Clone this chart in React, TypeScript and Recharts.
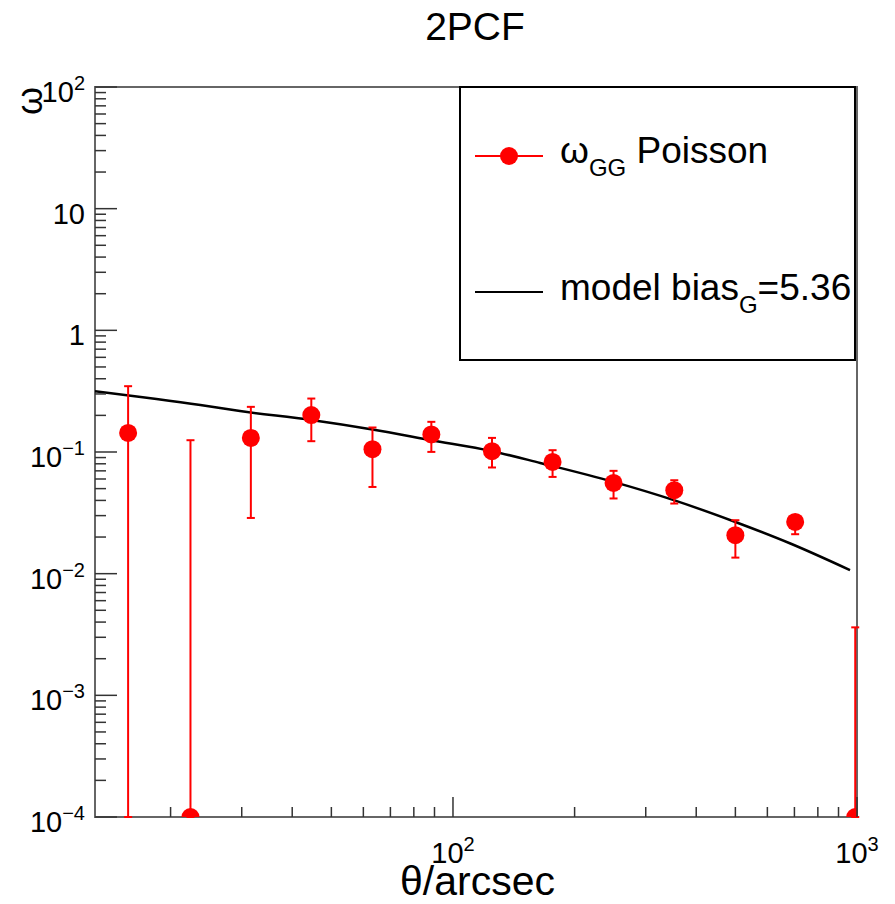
import React from 'react';
import {
  ComposedChart,
  Scatter,
  Line,
  XAxis,
  YAxis,
  ErrorBar,
  ReferenceArea,
  Legend,
  Customized,
} from 'recharts';

// measured points (theta in arcsec), omega and the ends of the error bars
const theta = [15.7, 22.4, 31.6, 44.6, 63.2, 88.4, 124.9, 176.4, 249.7, 353, 500, 703, 990];
const omega = [0.1436, 0.0001, 0.1306, 0.201, 0.1054, 0.1393, 0.1016, 0.0829, 0.0557, 0.0485, 0.0207, 0.0266, 0.0001];
const omegaLow = [0.0001, 0.0001, 0.0287, 0.1227, 0.0516, 0.1002, 0.0746, 0.0624, 0.0415, 0.0377, 0.01355, 0.0211, 0.0001];
const omegaHigh = [0.3475, 0.125, 0.235, 0.275, 0.159, 0.177, 0.1306, 0.1035, 0.07, 0.0586, 0.0275, 0.0297, 0.00362];

// model curve
const modelTheta = [13, 23.7, 29.7, 44.6, 63.2, 88.4, 124.9, 164.4, 249.6, 352, 500, 684, 961];
const modelOmega = [0.316, 0.243, 0.217, 0.183, 0.153, 0.125, 0.1016, 0.0813, 0.0568, 0.0402, 0.0266, 0.0177, 0.0107];

// axes
const xDomain = [13, 1000];
const yDomain = [1e-4, 100];
const xDecades = [10, 100];
const yDecades = [1e-5, 1e-4, 1e-3, 1e-2, 1e-1, 1, 10];
const xLabels: Record<string, [string, string]> = { '100': ['10', '2'], '1000': ['10', '3'] };
const yLabels: [string, string][] = [
  ['10', '−4'],
  ['10', '−3'],
  ['10', '−2'],
  ['10', '−1'],
  ['1', ''],
  ['10', ''],
  ['10', '2'],
];
const yLabelValues = [1e-4, 1e-3, 1e-2, 1e-1, 1, 10, 100];

const FONT = '"Liberation Sans", Arial, Helvetica, sans-serif';

const points = theta.map((x, i) => ({
  x,
  y: omega[i],
  err: [omega[i] - omegaLow[i], omegaHigh[i] - omega[i]],
}));
const model = modelTheta.map((x, i) => ({ x, y: modelOmega[i] }));

const xTicks = xDecades
  .flatMap((d) => [2, 3, 4, 5, 6, 7, 8, 9, 10].map((m) => m * d))
  .filter((v) => v >= xDomain[0] && v <= xDomain[1]);
const yTicks = yDecades
  .flatMap((d) => [2, 3, 4, 5, 6, 7, 8, 9, 10].map((m) => m * d))
  .filter((v) => v >= yDomain[0] * 0.999 && v <= yDomain[1] * 1.001);

const isDecade = (v: number) => Math.abs(Math.log10(v) - Math.round(Math.log10(v))) < 1e-6;

function XTick(props: any) {
  const { x, y, payload } = props;
  const v = payload.value;
  const major = isDecade(v);
  const lab = major ? xLabels[String(Math.round(v))] : null;
  return (
    <g>
      <line x1={x} x2={x} y1={y} y2={y - (major ? 20 : 10)} stroke="#333" strokeWidth={1.5} />
      {lab && (
        <text x={x} y={y + 46} textAnchor="middle" fontSize={29} fill="#000" fontFamily={FONT}>
          {lab[0]}
          <tspan dy={-12} fontSize={20}>{lab[1]}</tspan>
        </text>
      )}
    </g>
  );
}

function YTick(props: any) {
  const { x, y, payload } = props;
  const v = payload.value;
  const major = isDecade(v);
  const idx = yLabelValues.findIndex((d) => Math.abs(Math.log10(d) - Math.log10(v)) < 1e-6);
  const lab = major && idx >= 0 ? yLabels[idx] : null;
  return (
    <g>
      <line x1={x} x2={x + (major ? 22 : 11)} y1={y} y2={y} stroke="#333" strokeWidth={1.5} />
      {lab && (
        <text x={x - 10} y={y + 15} textAnchor="end" fontSize={29} fill="#000" fontFamily={FONT}>
          {lab[0]}
          {lab[1] && (
            <tspan dy={-12} fontSize={20}>
              {lab[1]}
            </tspan>
          )}
        </text>
      )}
    </g>
  );
}

function RedDot(props: any) {
  const { cx, cy } = props;
  return <circle cx={cx} cy={cy} r={9} fill="#ff0000" />;
}

function LegendBox() {
  return (
    <svg width={397} height={275} style={{ display: 'block', overflow: 'visible' }} fontFamily={FONT}>
      <rect x={1} y={1} width={395} height={273} fill="#fff" stroke="#000" strokeWidth={2} />
      <line x1={16} x2={84} y1={70} y2={70} stroke="#ff0000" strokeWidth={2} />
      <circle cx={50} cy={70} r={9} fill="#ff0000" />
      <text x={101} y={77} fontSize={37} fill="#000" style={{ whiteSpace: 'pre' }}>
        ω
        <tspan dy={13} fontSize={24}>GG</tspan>
        <tspan dy={-13}> Poisson</tspan>
      </text>
      <line x1={16} x2={84} y1={206} y2={206} stroke="#000" strokeWidth={2} />
      <text x={101} y={214} fontSize={37} fill="#000" style={{ whiteSpace: 'pre' }}>
        model bias
        <tspan dy={13} fontSize={24}>G</tspan>
        <tspan dy={-13}>=5.36</tspan>
      </text>
    </svg>
  );
}

function Titles() {
  return (
    <g fontFamily={FONT} fill="#000">
      <text x={475} y={40} textAnchor="middle" fontSize={39}>
        2PCF
      </text>
      <text x={555} y={895} textAnchor="end" fontSize={41}>
        θ/arcsec
      </text>
      <text x={33} y={110} textAnchor="middle" fontSize={36} transform="rotate(-90, 33, 101)">
        ω
      </text>
    </g>
  );
}

export default function App() {
  return (
    <div style={{ position: 'absolute', left: 0, top: 0, width: 895, height: 904, background: '#fff' }}>
      <ComposedChart
        width={895}
        height={904}
        margin={{ top: 87, right: 38, bottom: 27, left: 35 }}
      >
        <XAxis
          type="number"
          dataKey="x"
          scale="log"
          domain={xDomain}
          allowDataOverflow
          ticks={xTicks}
          interval={0}
          tick={<XTick />}
          tickSize={0}
          tickMargin={0}
          tickLine={false}
          axisLine={false}
          height={60}
        />
        <YAxis
          type="number"
          dataKey="y"
          scale="log"
          domain={yDomain}
          allowDataOverflow
          ticks={yTicks}
          interval={0}
          tick={<YTick />}
          tickSize={0}
          tickMargin={0}
          tickLine={false}
          axisLine={false}
          width={60}
        />
        <ReferenceArea
          x1={xDomain[0]}
          x2={xDomain[1]}
          y1={yDomain[0]}
          y2={yDomain[1]}
          fill="none"
          stroke="#666"
          strokeWidth={2}
        />
        <Line
          data={model}
          dataKey="y"
          type="monotone"
          stroke="#000"
          strokeWidth={2.5}
          dot={false}
          isAnimationActive={false}
        />
        <Scatter data={points} dataKey="y" fill="#ff0000" shape={<RedDot />} isAnimationActive={false}>
          <ErrorBar dataKey="err" direction="y" stroke="#ff0000" strokeWidth={2} width={4} />
        </Scatter>
        <Legend
          layout="horizontal"
          verticalAlign="middle"
          align="center"
          width={397}
          wrapperStyle={{ left: 459, top: 86, width: 397, height: 275 }}
          content={() => <LegendBox />}
        />
        <Customized component={Titles} />
      </ComposedChart>
    </div>
  );
}
